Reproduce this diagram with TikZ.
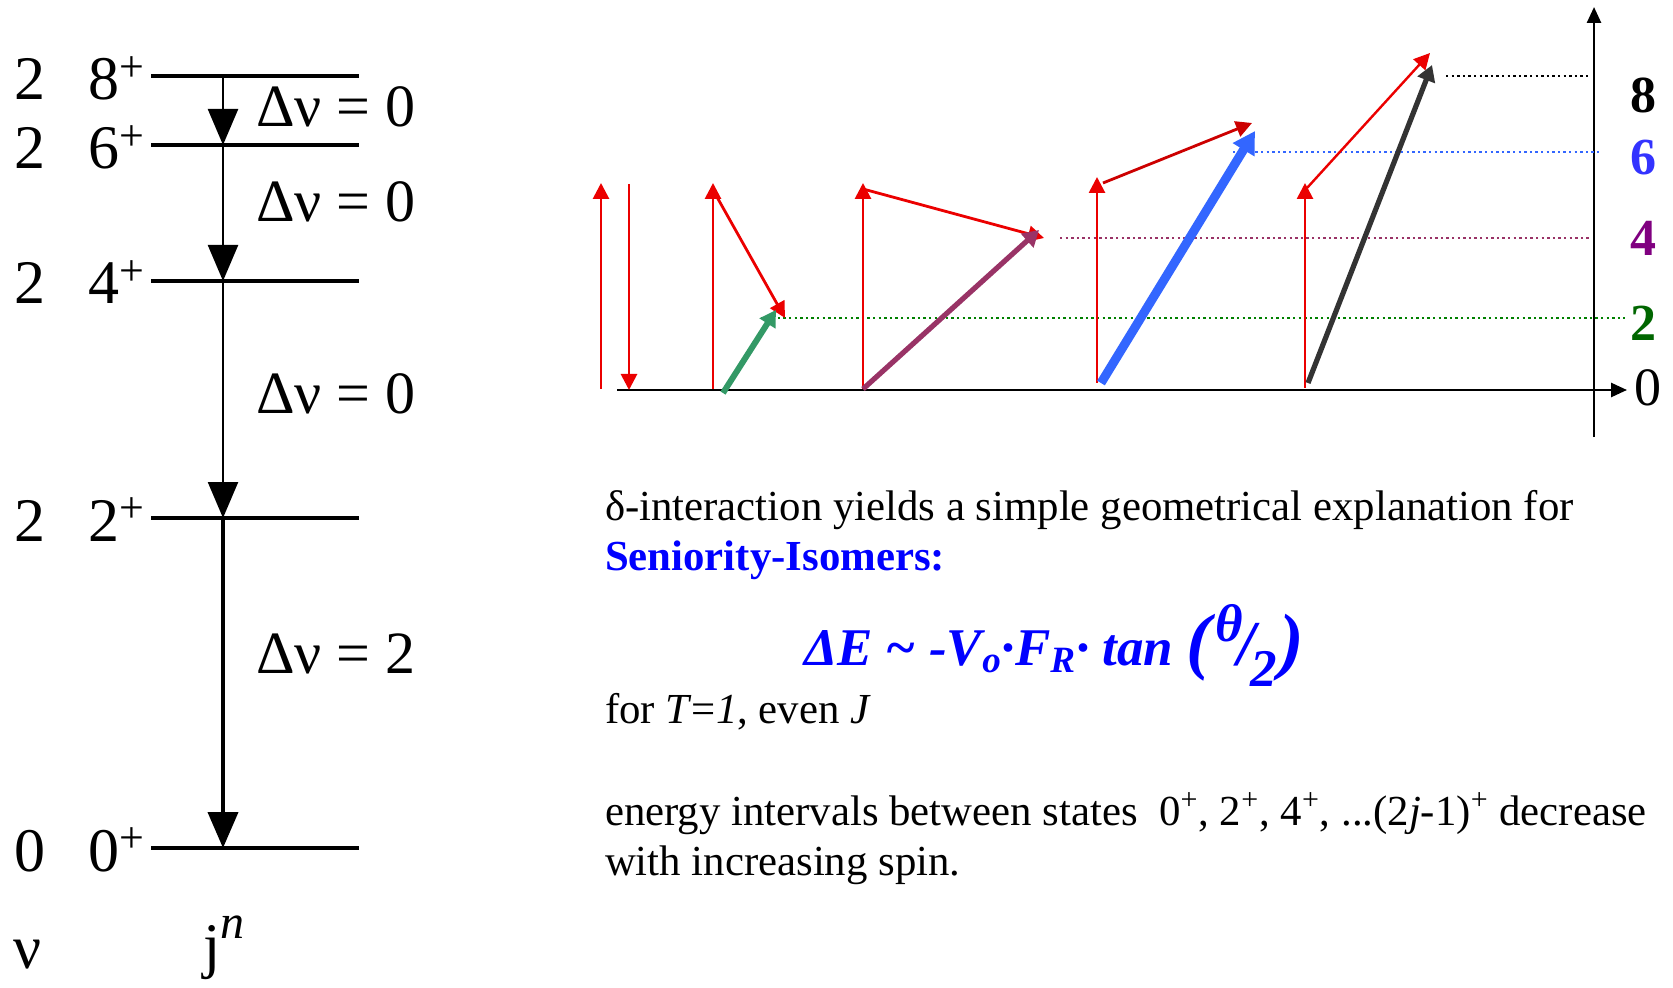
\documentclass[tikz,border=0pt]{standalone}
\usepackage{fontspec}
\setmainfont{Liberation Serif}
\usepackage{xcolor}
\usepackage{tikz}
\usetikzlibrary{arrows.meta, positioning, calc}

\definecolor{vecred}{RGB}{235,0,0}
\definecolor{vecgreen}{RGB}{51,153,102}
\definecolor{vecpurple}{RGB}{153,51,102}
\definecolor{vecblue}{RGB}{51,102,255}
\definecolor{vecgray}{RGB}{51,51,51}
\definecolor{lvlgreen}{RGB}{0,128,0}
\definecolor{numgreen}{RGB}{0,102,0}
\definecolor{numpurple}{RGB}{128,0,128}
\definecolor{numblue}{RGB}{51,51,255}
\definecolor{txtblue}{RGB}{0,0,255}

\newcommand{\suplus}{\raisebox{0.3em}{\fontsize{22}{22}\selectfont +}}

\begin{document}
\begin{tikzpicture}[
  x=0.5pt, y=-0.5pt,
  every node/.style={inner sep=0pt, outer sep=0pt},
  lvl/.style={line width=2pt},
  trans/.style={-{Triangle[length=18pt, width=15pt]}, line width=1.2pt},
  lab/.style={font=\fontsize{31}{31}\selectfont, anchor=base},
  spinlab/.style={font=\fontsize{31}{31}\selectfont, anchor=base west},
  dnu/.style={font=\fontsize{30}{30}\selectfont, anchor=base west},
  spin/.style={-{Triangle[length=8pt, width=8pt]}, vecred, line width=1.4pt},
  sumvec/.style={-{Triangle[length=8pt, width=9pt]}, line width=3pt},
  lvldot/.style={line width=1.2pt, dash pattern=on 1.2pt off 1.6pt},
  axisline/.style={-{Triangle[length=8pt, width=7pt]}, line width=1.3pt},
  numlab/.style={font=\fontsize{26}{26}\selectfont\bfseries},
  txt/.style={font=\fontsize{21.4}{25}\selectfont, anchor=base west},
]
  \useasboundingbox (0,0) rectangle (1673,988);

  % level scheme j^n
  \coordinate (s8l) at (151,76);  \coordinate (s8r) at (359,76);
  \coordinate (s6l) at (151,145); \coordinate (s6r) at (359,145);
  \coordinate (s4l) at (151,281); \coordinate (s4r) at (359,281);
  \coordinate (s2l) at (151,518); \coordinate (s2r) at (359,518);
  \coordinate (s0l) at (151,848); \coordinate (s0r) at (359,848);
  \coordinate (t8) at (223,76);  \coordinate (t6) at (223,145);
  \coordinate (t4) at (223,281); \coordinate (t2) at (223,518);
  \coordinate (t0) at (223,848);

  \draw[lvl] (s8l) -- (s8r);
  \draw[lvl] (s6l) -- (s6r);
  \draw[lvl] (s4l) -- (s4r);
  \draw[lvl] (s2l) -- (s2r);
  \draw[lvl] (s0l) -- (s0r);

  \draw[trans] (t8) -- (t6);
  \draw[trans] (t6) -- (t4);
  \draw[trans] (t4) -- (t2);
  \draw[trans, line width=2pt] (t2) -- (t0);

  \node[lab]     (v8) at (30,100) {2};
  \node[spinlab] (j8) at (88,100) {8\suplus};
  \node[lab]     (v6) at (30,169) {2};
  \node[spinlab] (j6) at (88,169) {6\suplus};
  \node[lab]     (v4) at (30,304) {2};
  \node[spinlab] (j4) at (88,304) {4\suplus};
  \node[lab]     (v2) at (30,541) {2};
  \node[spinlab] (j2) at (88,541) {2\suplus};
  \node[lab]     (v0) at (30,871) {0};
  \node[spinlab] (j0) at (88,871) {0\suplus};
  \node[lab]     (nu) at (28,968) {ν};
  \node[spinlab] (jn) at (203,966) {j\raisebox{0.45em}{\fontsize{24}{24}\selectfont\itshape n}};

  \node[dnu] (d86) at (256,127) {Δν = 0};
  \node[dnu] (d64) at (256,222) {Δν = 0};
  \node[dnu] (d42) at (256,414) {Δν = 0};
  \node[dnu] (d20) at (256,673) {Δν = 2};

  % coupling of two j-vectors
  \coordinate (ax0) at (617,390);  \coordinate (ax1) at (1627,390);
  \coordinate (ay0) at (1594,437); \coordinate (ay1) at (1594,7);
  \draw[axisline] (ax0) -- (ax1);
  \draw[axisline] (ay0) -- (ay1);

  \draw[lvldot, lvlgreen]  (761,318)  -- (1625,318);
  \draw[lvldot, vecpurple] (1060,238) -- (1590,238);
  \draw[lvldot, vecblue]   (1233,152) -- (1601,152);
  \draw[lvldot, black]     (1446,76)  -- (1591,76);

  \node[font=\fontsize{27}{27}\selectfont] (e0) at (1648,388) {0};
  \node[numlab, text=numgreen]  (e2) at (1643,323) {2};
  \node[numlab, text=numpurple] (e4) at (1643,238) {4};
  \node[numlab, text=numblue]   (e6) at (1643,158) {6};
  \node[numlab, text=black]     (e8) at (1643,95)  {8};

  \coordinate (a0) at (601,389);  \coordinate (a0t) at (601,183);
  \coordinate (b0) at (629,184);  \coordinate (b0t) at (629,390);
  \draw[spin] (a0) -- (a0t);
  \draw[spin] (b0) -- (b0t);

  \coordinate (a2) at (713,389);  \coordinate (a2t) at (713,183);
  \coordinate (b2) at (713,190);  \coordinate (b2t) at (785,318);
  \coordinate (c2) at (723,393);  \coordinate (c2t) at (776,310);
  \draw[spin] (a2) -- (a2t);
  \draw[spin] (b2) -- (b2t);
  \draw[sumvec, vecgreen] (c2) -- (c2t);

  \coordinate (a4) at (863,389);  \coordinate (a4t) at (863,183);
  \coordinate (b4) at (863,189);  \coordinate (b4t) at (1044,238);
  \coordinate (c4) at (863,389);  \coordinate (c4t) at (1039,230);
  \draw[spin] (a4) -- (a4t);
  \draw[spin] (b4) -- (b4t);
  \draw[sumvec, vecpurple, line width=2.6pt] (c4) -- (c4t);

  \coordinate (a6) at (1097,383); \coordinate (a6t) at (1097,177);
  \coordinate (b6) at (1103,183); \coordinate (b6t) at (1252,123);
  \coordinate (c6) at (1101,383); \coordinate (c6t) at (1255,131);
  \draw[spin] (a6) -- (a6t);
  \draw[spin, red!80!black] (b6) -- (b6t);
  \draw[sumvec, vecblue, line width=4.5pt, -{Triangle[length=11pt, width=12pt]}] (c6) -- (c6t);

  \coordinate (a8) at (1305,388); \coordinate (a8t) at (1305,183);
  \coordinate (b8) at (1307,188); \coordinate (b8t) at (1430,53);
  \coordinate (c8) at (1308,383); \coordinate (c8t) at (1432,65);
  \draw[spin] (a8) -- (a8t);
  \draw[spin, line width=1.2pt] (b8) -- (b8t);
  \draw[sumvec, vecgray, line width=2.6pt] (c8) -- (c8t);

  % explanation
  \node[txt] (l1) at (605,520) {δ-interaction yields a simple geometrical explanation for};
  \node[txt, text=txtblue, font=\fontsize{21.4}{25}\selectfont\bfseries] (l2) at (605,570) {Seniority-Isomers:};
  \node[txt, text=txtblue, font=\fontsize{26.5}{30}\selectfont\bfseries\itshape] (fml) at (804,665)
    {ΔE \textasciitilde{} -V\textsubscript{o}·F\textsubscript{R}· tan {\fontsize{37}{37}\selectfont(}\kern0.08em\raisebox{0.45em}{θ}\kern-0.1em{\fontsize{32}{32}\selectfont/}\kern-0.1em\raisebox{-0.4em}{2}\kern0.05em{\fontsize{37}{37}\selectfont)}};
  \node[txt] (l3) at (605,723) {for \textit{T}=\textit{1}, even \textit{J}};
  \node[txt] (l4) at (605,825) {energy intervals between states\ \ 0\textsuperscript{+}, 2\textsuperscript{+}, 4\textsuperscript{+}, ...(2\textit{j}-1)\textsuperscript{+} decrease};
  \node[txt] (l5) at (605,875) {with increasing spin.};
\end{tikzpicture}
\end{document}
